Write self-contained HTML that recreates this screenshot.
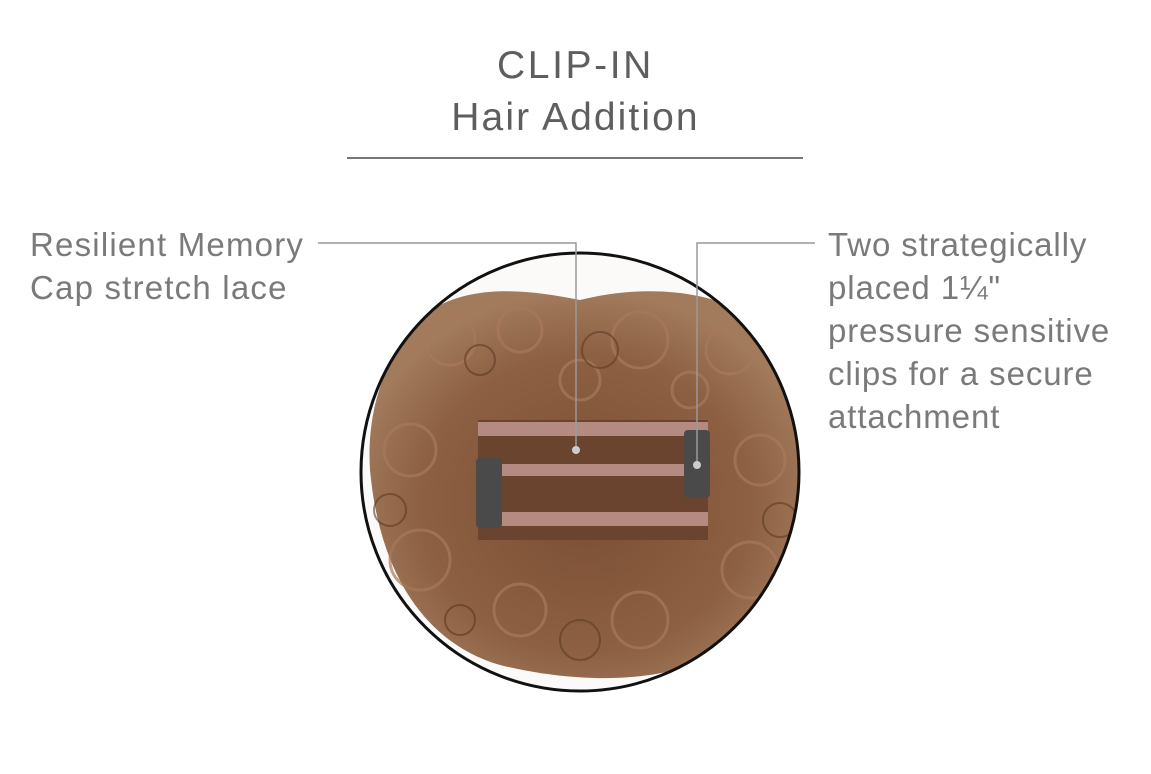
<!DOCTYPE html>
<html><head><meta charset="utf-8"><style>
html,body{margin:0;padding:0;background:#fff;}
body{width:1151px;height:774px;position:relative;overflow:hidden;font-family:"Liberation Sans",sans-serif;}
.t{position:absolute;color:#7a7a7a;font-size:33px;line-height:43px;white-space:nowrap;letter-spacing:0.9px}
</style></head><body>
<div class="t" style="left:0;width:1151px;text-align:center;top:44px;font-size:39px;color:#5e5e5e;letter-spacing:2.6px">CLIP-IN</div>
<div class="t" style="left:0;width:1151px;text-align:center;top:96px;font-size:39px;color:#5e5e5e;letter-spacing:2.1px">Hair Addition</div>
<div style="position:absolute;left:347px;top:157px;width:456px;height:2px;background:#777"></div>
<div class="t" style="left:30px;top:223px;letter-spacing:1.2px">Resilient Memory<br>Cap stretch lace</div>
<div class="t" style="left:828px;top:223px">Two strategically<br>placed 1¼"<br>pressure sensitive<br>clips for a secure<br>attachment</div>
<svg width="1151" height="774" style="position:absolute;left:0;top:0">
<defs>
<clipPath id="c"><circle cx="580" cy="472" r="219"/></clipPath>
<radialGradient id="g" cx="50%" cy="55%" r="55%">
<stop offset="0" stop-color="#7a4e33"/><stop offset="0.7" stop-color="#8d6043"/><stop offset="1" stop-color="#a27a5c"/></radialGradient>
</defs>
<circle cx="580" cy="472" r="219" fill="#fbfaf9"/>
<g clip-path="url(#c)">
<path d="M370 470 C365 390 400 330 440 305 C480 285 530 290 580 300 C640 285 700 290 740 310 C790 340 805 420 800 480 C800 560 770 620 720 650 C660 690 560 680 500 665 C430 645 380 580 370 470Z" fill="url(#g)"/>
<g fill="none" stroke="#a8795a" stroke-width="3" opacity="0.7">
<circle cx="450" cy="340" r="25"/><circle cx="520" cy="330" r="22"/><circle cx="640" cy="340" r="28"/><circle cx="730" cy="350" r="24"/>
<circle cx="410" cy="450" r="26"/><circle cx="420" cy="560" r="30"/><circle cx="760" cy="460" r="25"/><circle cx="750" cy="570" r="28"/>
<circle cx="520" cy="610" r="26"/><circle cx="640" cy="620" r="28"/><circle cx="580" cy="380" r="20"/><circle cx="690" cy="390" r="18"/>
</g>
<g fill="none" stroke="#5e3a24" stroke-width="2" opacity="0.6">
<circle cx="480" cy="360" r="15"/><circle cx="600" cy="350" r="18"/><circle cx="390" cy="510" r="16"/><circle cx="780" cy="520" r="17"/><circle cx="580" cy="640" r="20"/><circle cx="460" cy="620" r="15"/>
</g>
<rect x="478" y="420" width="230" height="120" fill="#6b4430"/>
<g fill="#b58a80"><rect x="478" y="422" width="230" height="14"/><rect x="478" y="464" width="230" height="12"/><rect x="478" y="512" width="230" height="14"/></g>
<rect x="476" y="458" width="26" height="70" rx="4" fill="#4a4a4a"/>
<rect x="684" y="430" width="26" height="68" rx="4" fill="#4a4a4a"/>
</g>
<circle cx="580" cy="472" r="219" fill="none" stroke="#111" stroke-width="3"/>
<g stroke="#999" stroke-width="1.5" fill="none">
<polyline points="318,243 576,243 576,450"/>
<polyline points="815,243 697,243 697,465"/>
</g>
<circle cx="576" cy="450" r="4" fill="#ccc"/>
<circle cx="697" cy="465" r="4" fill="#ccc"/>
</svg>
</body></html>
